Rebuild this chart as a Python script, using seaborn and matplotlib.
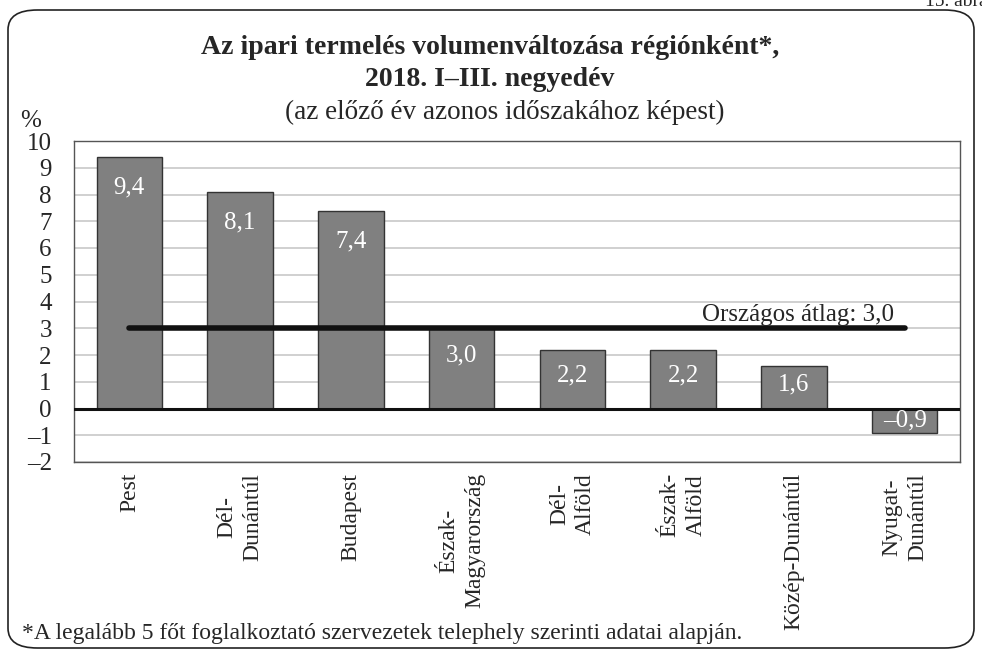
import matplotlib
matplotlib.use('Agg')
import matplotlib.pyplot as plt
import seaborn as sns
import pandas as pd
from matplotlib.patches import FancyBboxPatch

# data
regions = ['Pest', 'Dél-\nDunántúl', 'Budapest', 'Észak-\nMagyarország',
           'Dél-\nAlföld', 'Észak-\nAlföld', 'Közép-Dunántúl', 'Nyugat-\nDunántúl']
values = [9.4, 8.1, 7.4, 3.0, 2.2, 2.2, 1.6, -0.9]
labels = ['9,4', '8,1', '7,4', '3,0', '2,2', '2,2', '1,6', '–0,9']
avg = 3.0
yticks = list(range(-2, 11))
ytick_labels = ['–2' if t == -2 else '–1' if t == -1 else str(t) for t in yticks]

sns.set_style('white')
plt.rcParams['font.family'] = ['Liberation Serif', 'DejaVu Serif']

df = pd.DataFrame({'region': regions, 'value': values})

fig = plt.figure(figsize=(9.82, 6.56), dpi=100)
ax = fig.add_axes([74/982, 1 - 462/656, (960-74)/982, (462-141)/656])

# rounded outer frame
frame = FancyBboxPatch((8/982, 8/656), 966/982, 638/656,
                       boxstyle='round,pad=0,rounding_size=0.03',
                       transform=fig.transFigure, fill=False,
                       edgecolor='#222222', linewidth=1.2)
fig.patches.append(frame)

sns.barplot(data=df, x='region', y='value', color='#808080', width=0.59,
            edgecolor='#333333', linewidth=1, saturation=1, ax=ax, zorder=3)

ax.set_ylim(-2, 10)
ax.set_xlim(-0.5, 7.5)
ax.set_yticks(yticks)
ax.set_yticklabels(ytick_labels, fontsize=18)
ax.yaxis.grid(True, color='#c8c8c8', linewidth=1.2, zorder=0)
ax.set_axisbelow(True)
ax.axhline(0, color='#111111', linewidth=2.2, zorder=4)
ax.tick_params(axis='y', length=0, pad=16)
ax.tick_params(axis='x', length=0, pad=8)
ax.set_xticks(range(len(regions)))
ax.set_xticklabels(regions, rotation=90, fontsize=17, va='top', ha='center',
                   multialignment='center', linespacing=1.3)
ax.set_xlabel('')
ax.set_ylabel('')
for s in ax.spines.values():
    s.set_color('#555555')
    s.set_linewidth(1)

# national average line
ax.plot([0, len(regions) - 1], [avg, avg], color='#111111', linewidth=4,
        solid_capstyle='round', zorder=5)
ax.text(6.9, avg + 0.1, 'Országos átlag: 3,0', ha='right', va='bottom',
        fontsize=18, zorder=6)

for i, (v, lab) in enumerate(zip(values, labels)):
    if v > 0:
        y = max(v - 1.15, v * 0.56) if v > 3.5 else max(v - 1.0, v * 0.56)
    else:
        y = v / 2
    ax.text(i, y, lab, ha='center', va='center', color='white', fontsize=18,
            zorder=6)

fig.text(490/982, 1 - 47/656, 'Az ipari termelés volumenváltozása régiónként*,',
         ha='center', va='center', fontsize=20, fontweight='bold')
fig.text(490/982, 1 - 79/656, '2018. I–III. negyedév', ha='center',
         va='center', fontsize=20, fontweight='bold')
fig.text(505/982, 1 - 112/656, '(az előző év azonos időszakához képest)',
         ha='center', va='center', fontsize=19.5)
fig.text(20/982, 1 - 121/656, '%', ha='left', va='center', fontsize=18)
fig.text(925/982, 1 - 1/656, '15. ábra', ha='left', va='center', fontsize=14)
fig.text(22/982, 1 - 633/656,
         '*A legalább 5 főt foglalkoztató szervezetek telephely szerinti adatai alapján.',
         ha='left', va='center', fontsize=17)

fig.savefig('out.png', dpi=100)
